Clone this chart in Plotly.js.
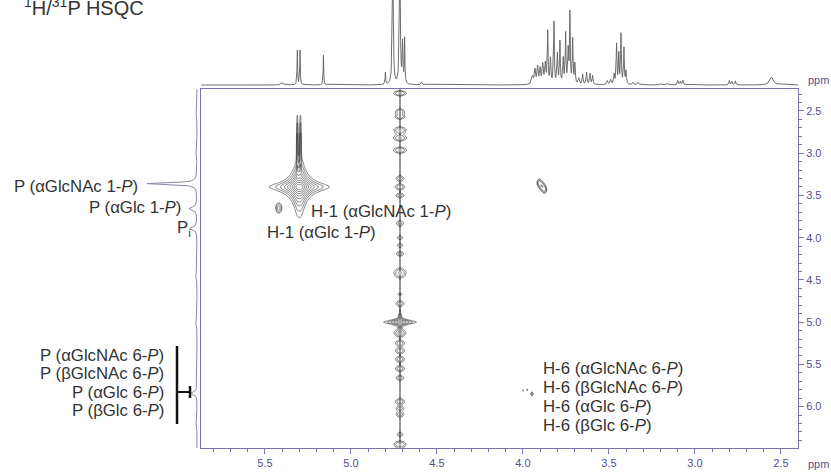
<!DOCTYPE html>
<html><head><meta charset="utf-8">
<script src="https://cdn.plot.ly/plotly-3.0.1.min.js"></script>
<style>html,body{margin:0;padding:0;background:#fff;} #chart{width:831px;height:472px;}</style>
</head><body><div id="chart"></div>
<script>
// ---------- DATA ----------
// 1H projection (top): peak position (ppm), intensity, half-width (ppm)
const h1Ppm = [5.40,5.312,5.296,5.16,4.80,4.757,4.716,4.70,4.688,4.59,
  3.945,3.93,3.915,3.90,3.885,3.87,3.856,3.84,3.82,3.80,3.785,3.766,3.752,3.737,3.727,3.711,3.698,3.675,3.653,3.63,3.61,3.595,
  3.51,3.49,3.47,3.456,3.443,3.430,3.413,3.401,3.36,3.33,3.20,3.16,3.10,3.085,3.07,2.80,2.785,2.765,2.554];
const h1Int = [2.5,35,35,30,12,140,140,40,45,3,
  8,14,17,15,19,20,52,25,62,30,42,25,50,33,70,44,20,6,10,12,11,9,
  4,5,10,40,30,50,36,13,2.5,2.5,1.5,1.5,4.5,3.5,4.5,4.5,3.5,4,8];
const h1Hw = [0.008,0.0018,0.0018,0.0018,0.002,0.003,0.003,0.0025,0.002,0.004,
  0.006,0.004,0.004,0.004,0.004,0.004,0.0025,0.003,0.0025,0.003,0.0025,0.003,0.0025,0.003,0.0025,0.0025,0.003,0.004,0.003,0.003,0.003,0.003,
  0.004,0.004,0.003,0.0025,0.0025,0.0025,0.0025,0.003,0.004,0.004,0.005,0.005,0.003,0.003,0.003,0.003,0.003,0.003,0.012];

// 31P projection (left): peak position (ppm), intensity, half-width (ppm)
const p31Ppm = [2.55,3.0,3.36,3.655,3.89,4.45,5.0,5.84,6.2];
const p31Int = [1,1,50,8,7,1.5,1.5,6,1];
const p31Hw  = [0.03,0.03,0.012,0.02,0.02,0.03,0.03,0.02,0.03];

// 2D cross peaks with Lorentzian shape: 1H ppm, 31P ppm, amplitude, 1H half-width, 31P half-width
const starH   = [5.31, 5.29, 4.715];
const starP   = [3.40, 3.40, 5.00];
const starAmp = [35, 35, 8];
const starWh  = [0.021, 0.021, 0.036];
const starWp  = [0.048, 0.048, 0.02];

// 2D cross peaks / t1-noise blobs with Gaussian shape: 1H ppm, 31P ppm, amplitude, 1H sigma, 31P sigma
const blobH = [5.312,5.294,5.42,3.905,3.89,3.875,4.00,3.975,3.948,4.715,
  4.715,4.715,4.715,4.715,4.715,4.715,4.715,4.715,4.715,4.715,4.715,4.715,4.715,4.715,
  4.715,4.715,4.715,4.715,4.715,4.715,4.715,4.715,4.715,4.715,4.715,4.715,4.715,4.715];
const blobP = [2.95,2.95,3.65,3.35,3.39,3.43,5.81,5.80,5.85,5.00,
  4.40,2.29,2.51,2.57,2.73,2.82,2.965,3.30,3.40,3.50,3.83,4.00,4.09,4.19,
  4.42,4.67,4.78,5.13,5.25,5.34,5.44,5.55,5.66,5.94,6.02,6.09,6.33,6.45];
const blobAmp = [3,3,3,3,3.5,3,1.6,1.6,2.2,3,
  1.1,2.6,2.2,2.2,2.6,2.6,2.6,2,2.2,2,1.9,1.7,1.7,1.9,
  2.6,1.5,2,2.6,2.2,2.2,2.2,2.2,2,2.2,2,2,1.7,2.6];
const blobSh = [0.003,0.003,0.012,0.009,0.01,0.009,0.003,0.003,0.006,0.006,
  0.0015,0.027,0.021,0.021,0.025,0.027,0.027,0.019,0.021,0.019,0.018,0.015,0.015,0.018,
  0.025,0.012,0.019,0.023,0.021,0.021,0.021,0.021,0.019,0.021,0.019,0.019,0.016,0.025];
const blobSp = [0.25,0.25,0.04,0.03,0.032,0.03,0.01,0.01,0.018,0.07,
  1000,0.022,0.026,0.022,0.03,0.026,0.026,0.026,0.026,0.022,0.026,0.02,0.02,0.022,
  0.04,0.012,0.026,0.03,0.026,0.026,0.026,0.026,0.022,0.026,0.022,0.026,0.022,0.03];

const xTickVals = [5.5,5.0,4.5,4.0,3.5,3.0,2.5];
const yTickVals = [2.5,3.0,3.5,4.0,4.5,5.0,5.5,6.0];
const titleText = "<sup>1</sup>H/<sup>31</sup>P HSQC";
const pLabels = ["P (αGlcNAc 1-<i>P</i>)","P (αGlc 1-<i>P</i>)","P<sub>i</sub>"];
const p6Labels = ["P (αGlcNAc 6-<i>P</i>)","P (βGlcNAc 6-<i>P</i>)","P (αGlc 6-<i>P</i>)","P (βGlc 6-<i>P</i>)"];
const h1Labels = ["H-1 (αGlcNAc 1-<i>P</i>)","H-1 (αGlc 1-<i>P</i>)"];
const h6Labels = ["H-6 (αGlcNAc 6-<i>P</i>)","H-6 (βGlcNAc 6-<i>P</i>)","H-6 (αGlc 6-<i>P</i>)","H-6 (βGlc 6-<i>P</i>)"];

// ---------- BUILD ----------
const W=831,H=472;
const fx=x=>x/W, fy=y=>1-y/H;
const X_RANGE=[5.872,2.401], Y_RANGE=[6.49,2.24];

function lor(v,c,w){const u=(v-c)/w;return 1/(1+u*u);}
function gau(v,c,s){const u=(v-c)/s;return Math.exp(-0.5*u*u);}
function spectrum1D(axisVals,pp,ii,ww){
  return axisVals.map(v=>{let s=0;for(let k=0;k<pp.length;k++)s+=ii[k]*lor(v,pp[k],ww[k]);return s;});
}
function buildAxis(lo,hi,step,fine){
  const a=[];let v=lo;
  while(v<=hi+1e-9){a.push(+v.toFixed(5));let st=step;for(const r of fine){if(v>=r[0]&&v<=r[1]){st=r[2];break;}}v+=st;}
  return a;
}
// 1H trace
const hx=[];for(let v=2.401;v<=5.872;v+=0.0004)hx.push(v);
const hy=spectrum1D(hx,h1Ppm,h1Int,h1Hw);
// 31P trace
const py=[];for(let v=2.24;v<=6.49;v+=0.002)py.push(v);
const px=spectrum1D(py,p31Ppm,p31Int,p31Hw);
// 2D grid
const gx=buildAxis(2.40,5.875,0.005,[[4.705,4.725,0.0005],[4.60,4.83,0.002],[5.26,5.345,0.001],[3.86,3.92,0.002],[3.93,4.01,0.001],[5.40,5.44,0.002]]);
const gy=buildAxis(2.24,6.49,0.008,[]);
const comps=[];
const nBlob=Math.min(blobH.length,blobP.length,blobAmp.length,blobSh.length,blobSp.length);
starH.forEach((c,k)=>comps.push({ax:Float64Array.from(gx,v=>starAmp[k]*lor(v,c,starWh[k])),ay:Float64Array.from(gy,v=>lor(v,starP[k],starWp[k]))}));
for(let k=0;k<nBlob;k++)comps.push({ax:Float64Array.from(gx,v=>blobAmp[k]*gau(v,blobH[k],blobSh[k])),ay:Float64Array.from(gy,v=>gau(v,blobP[k],blobSp[k]))});
const Z=[];
for(let j=0;j<gy.length;j++){
  const row=new Float64Array(gx.length);
  for(const cp of comps){const f=cp.ay[j];if(f<1e-4)continue;const a=cp.ax;for(let i=0;i<gx.length;i++)row[i]+=a[i]*f;}
  const out=new Array(gx.length);
  for(let i=0;i<gx.length;i++)out[i]=Math.log10(row[i]+1e-6);
  Z.push(out);
}

const axisColor='#7a74aa', tickColor='#554d93';
const FONT='Liberation Sans, Arial, sans-serif';
const txt='#333333';

const traces=[
  {type:'contour',x:gx,y:gy,z:Z,xaxis:'x',yaxis:'y',autocontour:false,
   contours:{start:0,end:1.8,size:0.2,coloring:'lines'},
   colorscale:[[0,'#262626'],[1,'#262626']],showscale:false,line:{width:0.6,smoothing:0.6},hoverinfo:'skip'},
  {type:'scatter',mode:'lines',x:hx,y:hy,xaxis:'x2',yaxis:'y2',line:{color:'#5e5e5e',width:0.9},hoverinfo:'skip'},
  {type:'scatter',mode:'lines',x:px,y:py,xaxis:'x3',yaxis:'y3',line:{color:'#8a85ad',width:1},hoverinfo:'skip'}
];

const mainAx={showline:true,mirror:true,linecolor:axisColor,linewidth:1,ticks:'outside',ticklen:5,tickcolor:axisColor,
  tickmode:'array',tickformat:'.1f',tickfont:{size:11,color:tickColor,family:FONT},
  minor:{dtick:0.1,tick0:0,ticks:'outside',ticklen:3,tickcolor:axisColor},showgrid:false,zeroline:false,fixedrange:true};

const LS=16.8;
const ann=[];
function A(text,x,y,xanchor,size,color){ann.push({text,x:fx(x),y:fy(y),xref:'paper',yref:'paper',xanchor,yanchor:'middle',showarrow:false,
  font:{family:FONT,size:size||LS,color:color||txt},borderpad:0,borderwidth:0});}
ann.push({text:titleText,x:fx(24),y:fy(19),xref:'paper',yref:'paper',xanchor:'left',yanchor:'bottom',showarrow:false,
  font:{family:FONT,size:20,color:txt},borderpad:0,borderwidth:0});
A(pLabels[0],138,187,'right');A(pLabels[1],181,208,'right');A(pLabels[2],191,229,'right');
[355,373,392,410].forEach((y,i)=>A(p6Labels[i],164,y,'right'));
A(h1Labels[0],311,211,'left');A(h1Labels[1],267,232,'left');
[368,387,406,425].forEach((y,i)=>A(h6Labels[i],543,y,'left'));
A('ppm',818,464,'center',11,tickColor);A('ppm',818,80,'center',11,tickColor);

const shapes=[
  {type:'line',xref:'paper',yref:'paper',x0:fx(177),x1:fx(177),y0:fy(346),y1:fy(424),line:{color:'#111',width:2.5}},
  {type:'line',xref:'paper',yref:'paper',x0:fx(177),x1:fx(190),y0:fy(392),y1:fy(392),line:{color:'#111',width:2}},
  {type:'line',xref:'paper',yref:'paper',x0:fx(190),x1:fx(190),y0:fy(386),y1:fy(398),line:{color:'#111',width:2.5}}
];

const layout={width:W,height:H,margin:{l:0,r:0,t:0,b:0},paper_bgcolor:'#fff',plot_bgcolor:'rgba(0,0,0,0)',showlegend:false,
  font:{family:FONT},
  xaxis:Object.assign({},mainAx,{domain:[fx(201),fx(798)],range:X_RANGE,anchor:'y',tickvals:xTickVals}),
  yaxis:Object.assign({},mainAx,{domain:[fy(448),fy(89)],range:Y_RANGE,anchor:'x',side:'right',tickvals:yTickVals}),
  xaxis2:{domain:[fx(201),fx(798)],range:X_RANGE,anchor:'y2',visible:false,fixedrange:true},
  yaxis2:{domain:[fy(89),1],range:[-4,85],anchor:'x2',visible:false,fixedrange:true},
  xaxis3:{domain:[fx(125),fx(201)],range:[72,-4],anchor:'y3',visible:false,fixedrange:true},
  yaxis3:{domain:[fy(448),fy(89)],range:Y_RANGE,anchor:'x3',visible:false,fixedrange:true},
  annotations:ann,shapes:shapes};

Plotly.newPlot('chart',traces,layout,{staticPlot:true,displayModeBar:false});
</script></body></html>
